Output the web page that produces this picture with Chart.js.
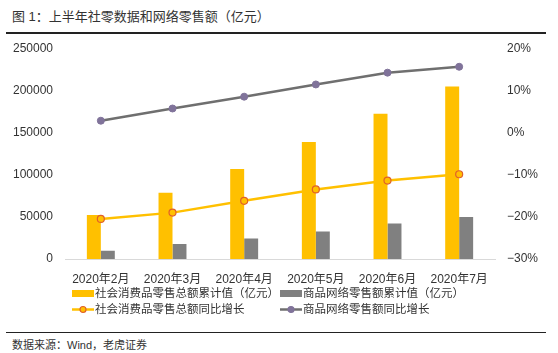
<!DOCTYPE html>
<html>
<head>
<meta charset="utf-8">
<script src="https://cdn.jsdelivr.net/npm/chart.js@4"></script>
<style>
  body { margin: 0; background: #fff; font-family: 'Liberation Sans', 'Noto Sans CJK SC', sans-serif; color: #333; }
  #wrap { position: relative; width: 558px; height: 353px; }
  #title { position: absolute; left: 12px; top: 6px; font-size: 13px; }
  #rule1 { position: absolute; left: 6px; top: 32px; width: 540px; height: 2px; background: #222; z-index: 2; }
  #rule2 { position: absolute; left: 6px; top: 332px; width: 540px; height: 1px; background: #222; }
  #source { position: absolute; left: 12px; top: 336px; font-size: 11px; }
  #box { position: absolute; left: 0; top: 29px; width: 558px; height: 258px; }
  #legend { position: absolute; left: 0; top: 286px; width: 558px; font-size: 11.5px; }
  .item { position: absolute; height: 15px; line-height: 15px; white-space: nowrap; }
  .sw { position: absolute; left: 0; top: 0; width: 22px; height: 15px; }
  .lab { position: absolute; left: 23px; top: 0; }
</style>
</head>
<body>
<div id="wrap">
  <div id="title">图 1：上半年社零数据和网络零售额（亿元）</div>
  <div id="box"><canvas id="chart"></canvas></div>
  <div id="rule1"></div>
  <div id="legend"></div>
  <div id="rule2"></div>
  <div id="source">数据来源：Wind，老虎证券</div>
</div>
<script>
// data
var months = ['2020年2月', '2020年3月', '2020年4月', '2020年5月', '2020年6月', '2020年7月'];
var retailTotal = [52130, 78580, 106758, 138730, 172256, 204459];
var onlineTotal = [9800, 17700, 24400, 32600, 42100, 49900];
var retailGrowth = [-20.5, -19.0, -16.2, -13.5, -11.4, -9.9];
var onlineGrowth = [2.8, 5.7, 8.5, 11.4, 14.2, 15.6];
var leftTicks = [0, 50000, 100000, 150000, 200000, 250000];
var rightTicks = [-30, -20, -10, 0, 10, 20];

var names = ['社会消费品零售总额累计值（亿元）', '商品网络零售额累计值（亿元）',
             '社会消费品零售总额同比增长', '商品网络零售额同比增长'];

var tickFont = { family: "'Liberation Sans', 'Noto Sans CJK SC', sans-serif", size: 12 };

var ctx = document.getElementById('chart').getContext('2d');
var chart = new Chart(ctx, {
  type: 'bar',
  data: {
    labels: months,
    datasets: [
      {
        type: 'line', label: names[3], data: onlineGrowth, yAxisID: 'y1',
        borderColor: '#6f6f6f', borderWidth: 2.5, pointRadius: 3.5,
        pointBackgroundColor: '#80739a', pointBorderColor: '#80739a', pointBorderWidth: 1,
        tension: 0, order: 1
      },
      {
        type: 'line', label: names[2], data: retailGrowth, yAxisID: 'y1',
        borderColor: '#ffc000', borderWidth: 2.5, pointRadius: 3.5,
        pointBackgroundColor: '#ffc000', pointBorderColor: '#e0602a', pointBorderWidth: 1.2,
        tension: 0, order: 2
      },
      {
        label: names[0], data: retailTotal, yAxisID: 'y',
        backgroundColor: '#ffc000', categoryPercentage: 0.39, barPercentage: 1.0, order: 3
      },
      {
        label: names[1], data: onlineTotal, yAxisID: 'y',
        backgroundColor: '#808080', categoryPercentage: 0.39, barPercentage: 1.0, order: 4
      }
    ]
  },
  options: {
    responsive: true,
    maintainAspectRatio: false,
    animation: false,
    layout: { padding: { top: 6, left: 0, right: 0, bottom: 0 } },
    plugins: { legend: { display: false }, tooltip: { enabled: false } },
    scales: {
      x: {
        grid: { display: false, drawTicks: false },
        border: { color: '#d9d9d9', width: 1 },
        afterFit: function (axis) { axis.height = 28; },
        ticks: { color: '#333', font: tickFont, padding: 13, maxRotation: 0 }
      },
      y: {
        position: 'left', min: 0, max: 250000,
        grid: { display: false, drawTicks: false },
        border: { display: false },
        afterBuildTicks: function (axis) { axis.ticks = leftTicks.map(function (v) { return { value: v }; }); },
        afterFit: function (axis) { axis.width = 65; },
        ticks: { color: '#333', font: tickFont, padding: 12, callback: function (v) { return String(v); } }
      },
      y1: {
        position: 'right', min: -30, max: 20,
        grid: { display: false, drawTicks: false },
        border: { display: false },
        afterBuildTicks: function (axis) { axis.ticks = rightTicks.map(function (v) { return { value: v }; }); },
        afterFit: function (axis) { axis.width = 63; },
        ticks: {
          color: '#333', font: tickFont, padding: 12,
          callback: function (v) { return (v < 0 ? '\u2212' + (-v) : v) + '%'; }
        }
      }
    }
  }
});

// legend in two columns, built from the dataset names and colours
var legendItems = [
  { name: names[0], kind: 'bar', color: '#ffc000', x: 72, y: 0 },
  { name: names[1], kind: 'bar', color: '#808080', x: 280, y: 0 },
  { name: names[2], kind: 'line', color: '#ffc000', fill: '#ffc000', edge: '#e0602a', x: 72, y: 16 },
  { name: names[3], kind: 'line', color: '#6f6f6f', fill: '#80739a', edge: '#80739a', x: 280, y: 16 }
];
var legend = document.getElementById('legend');
legendItems.forEach(function (it) {
  var d = document.createElement('div');
  d.className = 'item';
  d.style.left = it.x + 'px';
  d.style.top = it.y + 'px';
  var sw;
  if (it.kind === 'bar') {
    sw = '<svg class="sw" width="22" height="15"><rect x="0" y="4" width="22" height="7" fill="' + it.color + '"/></svg>';
  } else {
    sw = '<svg class="sw" width="22" height="15"><line x1="0" y1="7.5" x2="22" y2="7.5" stroke="' + it.color + '" stroke-width="2.5"/>' +
         '<circle cx="11" cy="7.5" r="3" fill="' + it.fill + '" stroke="' + it.edge + '" stroke-width="1.2"/></svg>';
  }
  d.innerHTML = sw + '<span class="lab">' + it.name + '</span>';
  legend.appendChild(d);
});
</script>
</body>
</html>
